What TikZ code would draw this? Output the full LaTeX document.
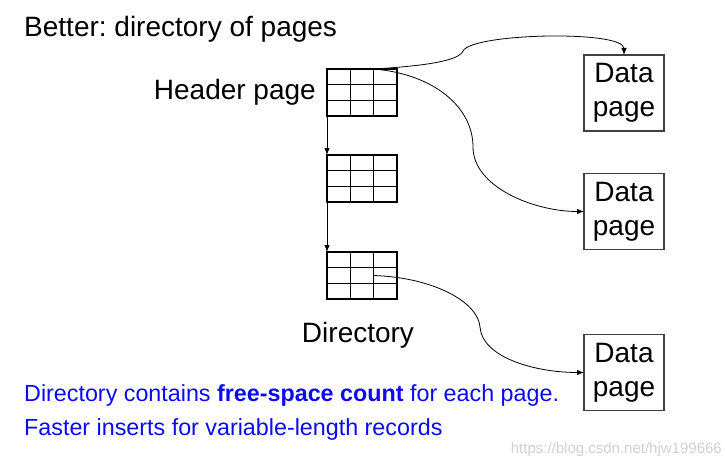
\documentclass[tikz,border=0pt]{standalone}
\usepackage{fontspec}
\setmainfont{Liberation Sans}
\usetikzlibrary{arrows.meta, positioning, calc}
\definecolor{dpInk}{HTML}{000000}
\definecolor{dpEdge}{HTML}{404040}
\definecolor{dpNote}{HTML}{0A0AF5}
\definecolor{dpMark}{HTML}{D0D0D0}
\newcommand{\dpbig}{\fontsize{28}{34}\selectfont}
\newcommand{\dpsmall}{\fontsize{23.3}{28}\selectfont}
\frenchspacing
\tikzset{
  dpgrid/.style={
    draw=dpInk, line width=2.2pt, minimum width=70pt, minimum height=47pt,
    inner sep=0pt, outer sep=0pt,
  },
  dpcell/.style={draw=dpInk, line width=1pt},
  dpdata/.style={
    draw=dpEdge, line width=1.2pt, minimum width=80pt, minimum height=76pt,
    inner sep=0pt, outer sep=0pt, align=center, text=dpInk, font=\dpbig,
  },
  dplabel/.style={text=dpInk, font=\dpbig, inner sep=0pt},
  dpnote/.style={text=dpNote, font=\dpsmall, inner sep=0pt},
  dpmark/.style={text=dpMark, font=\fontsize{15}{18}\selectfont, inner sep=0pt},
  dparrow/.style={
    -{Latex[length=7pt, width=5.5pt]}, draw=dpInk, line width=0.8pt,
  },
}
\newcommand{\dpdir}[2]{%
  \node[dpgrid, #2] (#1) {};%
  \foreach \f in {1,2}{%
    \draw[dpcell] ($(#1.north west)!\f/3!(#1.north east)$) --
      ($(#1.south west)!\f/3!(#1.south east)$);
    \draw[dpcell] ($(#1.north west)!\f/3!(#1.south west)$) --
      ($(#1.north east)!\f/3!(#1.south east)$);
  }%
}

\begin{document}
\begin{tikzpicture}[x=1pt, y=1pt]
\useasboundingbox (0,0) rectangle (725,467);

% Directory pages ---------------------------------------------------------
\dpdir{g1}{at={(362,374.5)}}
\dpdir{g2}{below=39pt of g1}
\dpdir{g3}{below=50pt of g2}

\node[dplabel, anchor=base west] (title) at (24,430.5) {Better: directory of pages};
\node[dplabel, anchor=base east] (lbHead) at ($(g1.west)+(-11,-7)$) {Header page};
\node[dplabel, anchor=base] (lbDir) at ($(g3.south)+(-4,-43)$) {Directory};

% Data pages --------------------------------------------------------------
\node[dpdata] (d1) at (624,374) {Data\\page};
\node[dpdata] (d2) at (624,255.5) {Data\\page};
\node[dpdata] (d3) at (624,94.5) {Data\\page};

% Notes -------------------------------------------------------------------
\node[dpnote, anchor=base west] (n1) at (24,65.5)
  {Directory contains \textbf{free-space count} for each page.};
\node[dpnote, anchor=base west] (n2) at (24,32)
  {Faster inserts for variable-length records};
\node[dpmark, anchor=base east] (wm) at (722,14) {https://blog.csdn.net/hjw199666};

% Flow --------------------------------------------------------------------
\coordinate (h1) at ($(g1.north west)!2/3!(g1.north east)$);
\coordinate (h3) at ($(g3.west)!2/3!(g3.east)$);
\coordinate (k1) at (463,416);
\coordinate (k2) at (473,320);
\coordinate (k3) at (480,140);

\foreach \a/\b in {g1/g2, g2/g3}{%
  \draw[dparrow] (\a.south west) -- (\b.north west);
}
\draw[dparrow] (h1) .. controls +(50,3) and +(-4,-10) .. (k1)
  .. controls +(9,18) and +(0,25) .. (d1.north);
\draw[dparrow] (h1) .. controls +(60,-5) and +(0,40) .. (k2)
  .. controls +(0,-40) and +(-50,0) .. (d2.west);
\draw[dparrow] (h3) .. controls +(60,-2) and +(-2,25) .. (k3)
  .. controls +(2,-30) and +(-50,0) .. (d3.west);

\end{tikzpicture}
\end{document}
